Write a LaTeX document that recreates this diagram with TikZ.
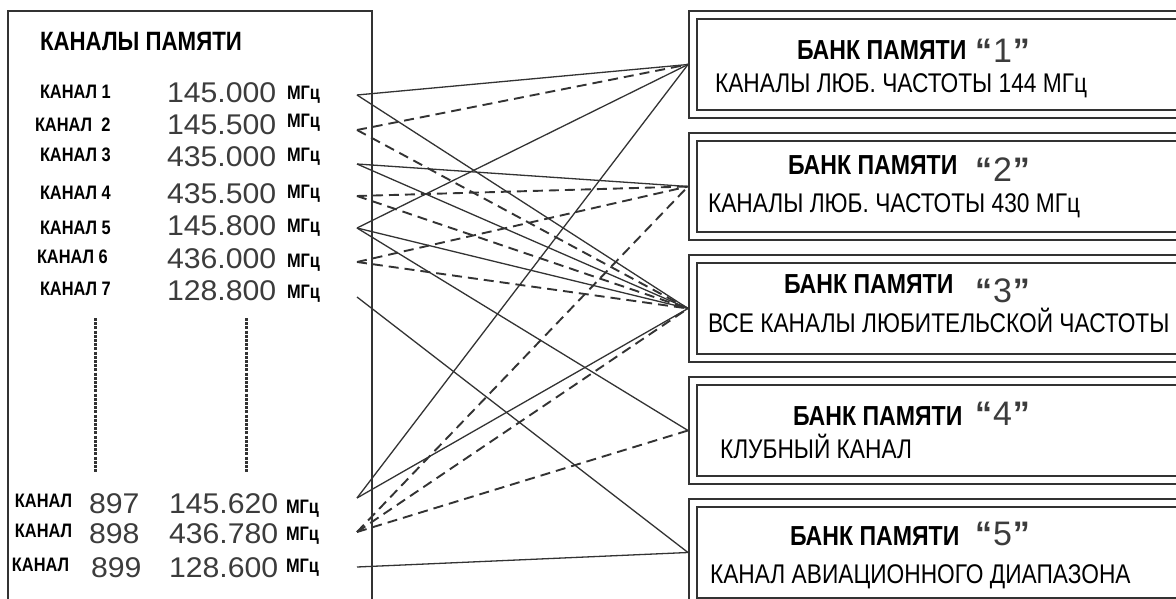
\documentclass[tikz,border=0pt]{standalone}
\usepackage{fontspec}
\setmainfont{Liberation Sans}
\newfontfamily\cond[FakeStretch=0.84]{Liberation Sans}
\newfontfamily\condb[FakeStretch=0.842]{Liberation Sans}
\newfontfamily\wide[FakeStretch=1.06]{Liberation Sans}
\definecolor{ln}{HTML}{333333}
\definecolor{num}{HTML}{3C3C3C}
\begin{document}
\begin{tikzpicture}[x=1pt,y=-1pt,
  txt/.style={anchor=base west, inner sep=0pt, outer sep=0pt},
  title/.style={txt, font=\cond\bfseries\fontsize{26.5}{26.5}\selectfont},
  chan/.style={txt, font=\cond\bfseries\fontsize{19.5}{19.5}\selectfont},
  freq/.style={txt, text=num, font=\wide\fontsize{28.5}{28.5}\selectfont},
  unit/.style={txt, font=\cond\bfseries\fontsize{19.5}{19.5}\selectfont},
  btitle/.style={txt, font=\cond\bfseries\fontsize{27.5}{27.5}\selectfont},
  bnum/.style={txt, text=num, font=\fontsize{34}{34}\selectfont},
  bline/.style={txt, font=\condb\fontsize{27}{27}\selectfont},
  frame/.style={draw=ln, line width=2pt},
  solidc/.style={draw=ln, line width=1.3pt},
  dashc/.style={draw=ln, line width=1.9pt, dash pattern=on 10pt off 6pt},
  dotc/.style={draw=ln, line width=3pt, dash pattern=on 3pt off 1.2pt}]
\useasboundingbox (0,0) rectangle (1176,599);
\fill[white] (0,0) rectangle (1176,599);

% left panel
\draw[frame] (8,603) -- (8,11) -- (372,11) -- (372,603);
\node[title] (t) at (40,51) {КАНАЛЫ ПАМЯТИ};

\node[chan] (k1) at (40,99) {КАНАЛ 1};
\node[chan] (k2) at (35,132) {КАНАЛ\ \ 2};
\node[chan] (k3) at (40,161) {КАНАЛ 3};
\node[chan] (k4) at (40,200) {КАНАЛ 4};
\node[chan] (k5) at (40,234) {КАНАЛ 5};
\node[chan] (k6) at (37,263) {КАНАЛ 6};
\node[chan] (k7) at (40,295) {КАНАЛ 7};

\node[freq] (f1) at (167,103) {145.000};
\node[freq] (f2) at (167,135) {145.500};
\node[freq] (f3) at (167,167) {435.000};
\node[freq] (f4) at (167,204) {435.500};
\node[freq] (f5) at (167,235) {145.800};
\node[freq] (f6) at (167,268) {436.000};
\node[freq] (f7) at (167,300) {128.800};

\node[unit] (u1) at (287,100) {МГц};
\node[unit] (u2) at (287,128) {МГц};
\node[unit] (u3) at (287,162) {МГц};
\node[unit] (u4) at (287,198) {МГц};
\node[unit] (u5) at (287,233) {МГц};
\node[unit] (u6) at (287,267) {МГц};
\node[unit] (u7) at (287,298) {МГц};

\draw[dotc] (95,318) -- (95,473);
\draw[dotc] (246,318) -- (246,473);

\node[chan] (k897) at (15,507) {КАНАЛ};
\node[chan] (k898) at (15,537) {КАНАЛ};
\node[chan] (k899) at (12,571) {КАНАЛ};
\node[freq] (n897) at (89,513) {897};
\node[freq] (n898) at (89,543) {898};
\node[freq] (n899) at (91,577) {899};
\node[freq] (f897) at (169,513) {145.620};
\node[freq] (f898) at (169,543) {436.780};
\node[freq] (f899) at (169,577) {128.600};
\node[unit] (u897) at (286,513) {МГц};
\node[unit] (u898) at (286,540) {МГц};
\node[unit] (u899) at (286,572) {МГц};

% right boxes
\foreach \i/\t in {1/11,2/133,3/255,4/377,5/499}{
  \draw[frame] (1182,\t) -- (689,\t) -- (689,\t+107) -- (1182,\t+107);
  \draw[frame] (1182,\t+8) -- (697,\t+8) -- (697,\t+99) -- (1182,\t+99);
}
\node[btitle] (bt1) at (797,60) {БАНК ПАМЯТИ};
\node[bnum] (bn1) at (975,63) {{\bfseries“}\kern1pt 1\kern1pt{\bfseries”}};
\node[bline] (bl1) at (715,93) {КАНАЛЫ ЛЮБ. ЧАСТОТЫ 144 МГц};

\node[btitle] (bt2) at (788,175) {БАНК ПАМЯТИ};
\node[bnum] (bn2) at (975,182) {{\bfseries“}\kern1pt 2\kern1pt{\bfseries”}};
\node[bline] (bl2) at (708,212) {КАНАЛЫ ЛЮБ. ЧАСТОТЫ 430 МГц};

\node[btitle] (bt3) at (784,293) {БАНК ПАМЯТИ};
\node[bnum] (bn3) at (975,302) {{\bfseries“}\kern1pt 3\kern1pt{\bfseries”}};
\node[bline] (bl3) at (708,332) {ВСЕ КАНАЛЫ ЛЮБИТЕЛЬСКОЙ ЧАСТОТЫ};

\node[btitle] (bt4) at (793,425) {БАНК ПАМЯТИ};
\node[bnum] (bn4) at (975,425) {{\bfseries“}\kern1pt 4\kern1pt{\bfseries”}};
\node[bline] (bl4) at (720,458) {КЛУБНЫЙ КАНАЛ};

\node[btitle] (bt5) at (790,545) {БАНК ПАМЯТИ};
\node[bnum] (bn5) at (975,545) {{\bfseries“}\kern1pt 5\kern1pt{\bfseries”}};
\node[bline] (bl5) at (710,583) {КАНАЛ АВИАЦИОННОГО ДИАПАЗОНА};

% connector ends
\coordinate (c1) at (357,95);
\coordinate (c2) at (357,130);
\coordinate (c3) at (357,164);
\coordinate (c4) at (357,196);
\coordinate (c5) at (357,228);
\coordinate (c6) at (357,262);
\coordinate (c7) at (357,297);
\coordinate (c897) at (357,498);
\coordinate (c898) at (357,532);
\coordinate (c899) at (357,567);
\coordinate (b1) at (688,64.5);
\coordinate (b2) at (688,186.5);
\coordinate (b3) at (688,308.5);
\coordinate (b4) at (688,430.5);
\coordinate (b5) at (688,552.5);

% solid connectors
\draw[solidc] (c1) -- (b1);
\draw[solidc] (c1) -- (b3);
\draw[solidc] (c3) -- (b2);
\draw[solidc] (c3) -- (b3);
\draw[solidc] (c5) -- (b1);
\draw[solidc] (c5) -- (b3);
\draw[solidc] (c5) -- (b4);
\draw[solidc] (c7) -- (b5);
\draw[solidc] (c897) -- (b1);
\draw[solidc] (c897) -- (b3);
\draw[solidc] (c899) -- (b5);
% dashed connectors
\draw[dashc] (c2) -- (b1);
\draw[dashc] (c2) -- (b3);
\draw[dashc] (c4) -- (b2);
\draw[dashc] (c4) -- (b3);
\draw[dashc] (c6) -- (b2);
\draw[dashc] (c6) -- (b3);
\draw[dashc] (c898) -- (b2);
\draw[dashc] (c898) -- (b3);
\draw[dashc] (c898) -- (b4);
\end{tikzpicture}
\end{document}
